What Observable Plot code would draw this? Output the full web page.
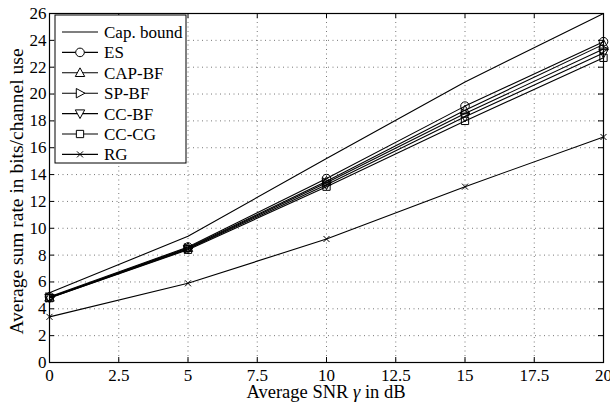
<!DOCTYPE html>
<html><head><meta charset="utf-8">
<script src="https://cdn.jsdelivr.net/npm/d3@7"></script>
<script src="https://cdn.jsdelivr.net/npm/@observablehq/plot@0.6"></script>
<style>body{margin:0;background:#fff} svg{overflow:visible}</style>
</head><body><div id="chart"></div>
<script>
const snr = [0, 5, 10, 15, 20];
const capBound = [5.2, 9.4, 15.2, 20.9, 26.0];
const es = [4.9, 8.6, 13.7, 19.1, 23.9];
const capBF = [4.85, 8.55, 13.5, 18.8, 23.7];
const spBF = [4.85, 8.5, 13.4, 18.55, 23.35];
const ccBF = [4.8, 8.45, 13.25, 18.3, 23.05];
const ccCG = [4.8, 8.4, 13.1, 18.0, 22.7];
const rg = [3.4, 5.9, 9.2, 13.1, 16.8];
const seriesNames = ["Cap. bound", "ES", "CAP-BF", "SP-BF", "CC-BF", "CC-CG", "RG"];
const xTicks = [0, 2.5, 5, 7.5, 10, 12.5, 15, 17.5, 20];
const xTickLabels = ["0", "2.5", "5", "7.5", "10", "12.5", "15", "17.5", "20"];
const yTicks = [0, 2, 4, 6, 8, 10, 12, 14, 16, 18, 20, 22, 24, 26];
const xLabel = "Average SNR ";
const yLabel = "Average sum rate in bits/channel use";

const FF = "Liberation Serif";
// custom stroke symbols
const R = s => Math.sqrt(s / Math.PI);
const symCircle = {draw(c, s){ const r = R(s); c.moveTo(r, 0); c.arc(0, 0, r, 0, 2*Math.PI); }};
const symTriUp = {draw(c, s){ const r = R(s)*1.15; c.moveTo(0, -r); c.lineTo(r*0.95, r*0.75); c.lineTo(-r*0.95, r*0.75); c.closePath(); }};
const symTriDown = {draw(c, s){ const r = R(s)*1.15; c.moveTo(0, r); c.lineTo(r*0.95, -r*0.75); c.lineTo(-r*0.95, -r*0.75); c.closePath(); }};
const symTriRight = {draw(c, s){ const r = R(s)*1.15; c.moveTo(r, 0); c.lineTo(-r*0.75, r*0.95); c.lineTo(-r*0.75, -r*0.95); c.closePath(); }};
const symSquare = {draw(c, s){ const r = R(s)*0.85; c.rect(-r, -r, 2*r, 2*r); }};
const symTimes = {draw(c, s){ const r = R(s)*0.7; c.moveTo(-r,-r); c.lineTo(r,r); c.moveTo(r,-r); c.lineTo(-r,r); }};
const symbols = [null, symCircle, symTriUp, symTriRight, symTriDown, symSquare, symTimes];

const allSeries = [capBound, es, capBF, spBF, ccBF, ccCG, rg];
const rows = [];
allSeries.forEach((vals, i) => vals.forEach((v, j) => rows.push({name: seriesNames[i], idx: i, x: snr[j], y: v})));

const W = 610, H = 402, mL = 49, mR = 7, mT = 13, mB = 40;
const pw = W - mL - mR, ph = H - mT - mB;

const marks = [
  Plot.ruleX(xTicks.slice(1, -1), {x: d => d, stroke: "#555", strokeDasharray: "1,3.5", strokeWidth: 0.8}),
  Plot.ruleY(yTicks.slice(1, -1), {y: d => d, stroke: "#555", strokeDasharray: "1,3.5", strokeWidth: 0.8}),
  Plot.tickX(xTicks, {x: d => d, insetTop: ph - 5, stroke: "#000"}),
  Plot.tickX(xTicks, {x: d => d, insetBottom: ph - 5, stroke: "#000"}),
  Plot.tickY(yTicks, {y: d => d, insetRight: pw - 5, stroke: "#000"}),
  Plot.tickY(yTicks, {y: d => d, insetLeft: pw - 5, stroke: "#000"}),
  Plot.line(rows, {x: "x", y: "y", z: "name", stroke: "#000", strokeWidth: 1.1}),
];
symbols.forEach((sym, i) => {
  if (!sym) return;
  marks.push(Plot.dot(rows.filter(d => d.idx === i), {x: "x", y: "y", r: 4.3, symbol: () => sym, stroke: "#000", fill: "none", strokeWidth: 1}));
});
marks.push(
  Plot.frame({stroke: "#000", strokeWidth: 1.2}),
  Plot.axisX(xTicks, {tickSize: 0, tickPadding: 6, tickFormat: (d, i) => xTickLabels[i], label: null, fontSize: 17, fontFamily: FF, fill: "#000"}),
  Plot.axisY(yTicks, {tickSize: 0, tickPadding: 3, label: null, fontSize: 17, fontFamily: FF, fill: "#000"})
);

const chart = Plot.plot({
  width: W, height: H,
  marginLeft: mL, marginRight: mR, marginTop: mT, marginBottom: mB,
  x: {domain: [0, 20]},
  y: {domain: [0, 26]},
  style: {fontFamily: FF, fontSize: "17px", color: "#000", background: "#fff"},
  marks
});
document.getElementById("chart").appendChild(chart);

// axis titles
const svg = d3.select(chart);
const xt = svg.append("text").attr("x", mL + pw/2).attr("y", H - 4).attr("text-anchor", "middle")
  .attr("font-family", FF).attr("font-size", 18.5).attr("fill", "#000");
xt.append("tspan").text(xLabel);
xt.append("tspan").attr("font-style", "italic").text("γ");
xt.append("tspan").text(" in dB");
svg.append("text").attr("transform", `translate(23,${mT + ph/2 + 4}) rotate(-90)`).attr("text-anchor", "middle")
  .attr("font-family", FF).attr("font-size", 19.5).attr("fill", "#000").text(yLabel);

// legend
const lg = svg.append("g");
const lx = 55, ly = 15, lw = 131, lh = 148, rowH = 20.4;
lg.append("rect").attr("x", lx).attr("y", ly).attr("width", lw).attr("height", lh).attr("fill", "#fff").attr("stroke", "#000").attr("stroke-width", 1);
seriesNames.forEach((name, i) => {
  const cy = ly + 17 + i * rowH;
  lg.append("line").attr("x1", lx + 7).attr("x2", lx + 43).attr("y1", cy).attr("y2", cy).attr("stroke", "#000").attr("stroke-width", 1.1);
  if (symbols[i]) {
    lg.append("path").attr("transform", `translate(${lx + 25},${cy})`).attr("d", d3.symbol(symbols[i], 4.3*4.3*Math.PI)())
      .attr("fill", "#fff").attr("stroke", "#000");
  }
  lg.append("text").attr("x", lx + 49).attr("y", cy + 6).attr("text-anchor", "start").attr("font-family", FF).attr("font-size", 17).attr("fill", "#000").text(name);
});
</script></body></html>
